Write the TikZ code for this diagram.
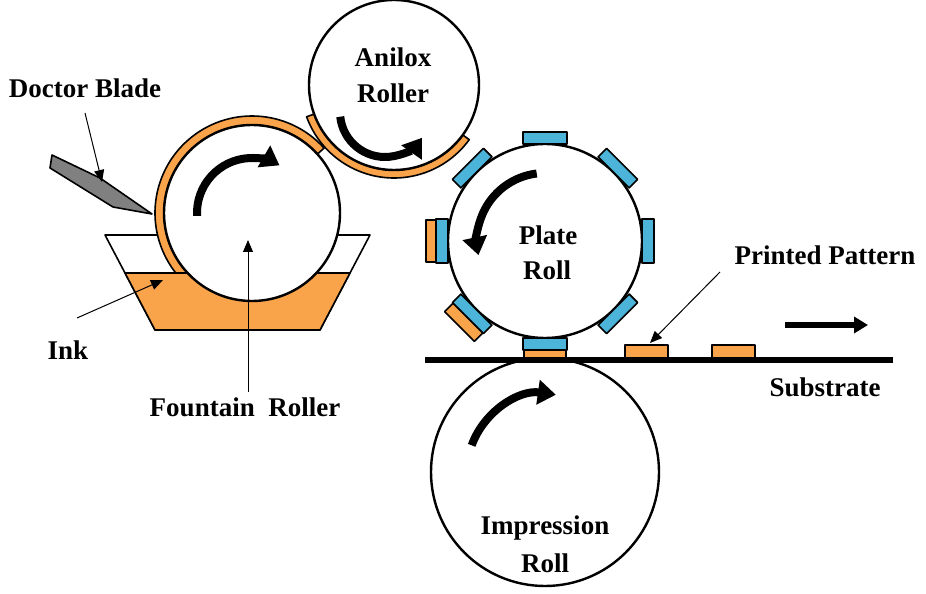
\documentclass[tikz,border=0pt]{standalone}
\usepackage{fontspec}
\setmainfont{Liberation Serif}
\usetikzlibrary{arrows.meta}
\definecolor{ink}{HTML}{F9A34B}
\definecolor{pad}{HTML}{4BB4D8}
\definecolor{blade}{HTML}{808080}
\begin{document}
\begin{tikzpicture}[x=0.5pt,y=0.5pt,line join=round,
  lbl/.style={font=\fontsize{13.5}{15}\selectfont\bfseries,inner sep=0pt},
  roller/.style={draw=black,fill=white,line width=1.2pt},
  rot/.style={line width=4pt,-{Triangle[length=9pt,width=12pt]}},
  thin/.style={line width=0.5pt,-{Triangle[length=6pt,width=5pt]}},
  box/.style={draw=black,line width=0.8pt}]
\useasboundingbox (0,0) rectangle (926,594);
% tray
\filldraw[box,fill=white] (105,359) -- (370,359) -- (320,264) -- (155,264) -- cycle;
% fountain ring
\filldraw[box,fill=ink] (252,381) ++(42:97) arc[start angle=42,end angle=228,radius=97]
  -- ++(48:9) arc[start angle=228,end angle=42,radius=88] -- cycle;
% ink
\filldraw[box,fill=ink] (125,321) -- (350,321) -- (320,264) -- (155,264) -- cycle;
% anilox ring
\filldraw[box,fill=ink] (394,509) ++(200:93) arc[start angle=200,end angle=324,radius=93]
  -- ++(144:8) arc[start angle=324,end angle=200,radius=85] -- cycle;
% rollers
\node[roller,circle,minimum size=88pt] (fr) at (252,381) {};
\node[roller,circle,minimum size=85pt] (an) at (394,509) {};
\node[roller,circle,minimum size=97pt] (pr) at (545,353) {};
\node[roller,circle,minimum size=114pt] (ir) at (545,122) {};
% plate pads
\foreach \a in {0,45,...,315}{
  \filldraw[box,fill=pad,shift={(545,353)},rotate=\a] (97,-22) rectangle (109,22);}
\foreach \a/\r in {180/119,225/121,270/120}{
  \filldraw[box,fill=ink,shift={(545,353)},rotate=\a] (109,-21) rectangle (\r,21);}
% substrate
\coordinate (s1) at (425,234);
\coordinate (s2) at (893,234);
\draw[line width=3pt] (s1) -- (s2);
\filldraw[box,fill=ink] (625,236) rectangle (668,249);
\filldraw[box,fill=ink] (712,236) rectangle (755,249);
% doctor blade
\filldraw[box,fill=blade] (52,439) -- (50,426) -- (113,387) -- (152,380) -- (100,416) -- cycle;
% rotation arrows
\draw[rot] (252,381) ++(183:55) arc[start angle=183,end angle=60,radius=55];
\draw[rot] (385,482) ++(186:45) arc[start angle=186,end angle=325,radius=45];
\draw[rot] (545,353) ++(97:68) arc[start angle=97,end angle=192,radius=68];
\draw[rot] (545,122) ++(160:78) arc[start angle=160,end angle=82,radius=78];
% labels
\node[lbl] (db) at (85,506) {Doctor Blade};
\node[lbl] (an1) at (393,537) {Anilox};
\node[lbl] (an2) at (393,501) {Roller};
\node[lbl] (pl1) at (548,359) {Plate};
\node[lbl] (pl2) at (547,324) {Roll};
\node[lbl] (pp) at (825,339) {Printed Pattern};
\node[lbl] (su) at (825,207) {Substrate};
\node[lbl] (im1) at (545,66) {Impression};
\node[lbl] (im2) at (545,31) {Roll};
\node[lbl] (fo) at (245,187) {Fountain\ \ Roller};
\node[lbl] (ik) at (68,244) {Ink};
% pointer arrows
\coordinate (dbt) at (102,412);
\coordinate (ikt) at (163,314);
\coordinate (fot) at (248,354);
\coordinate (ppt) at (650,251);
\coordinate (m1) at (785,269);
\coordinate (m2) at (868,269);
\draw[thin] (85,481) -- (dbt);
\draw[thin] (77,276) -- (ikt);
\draw[thin] (248,202) -- (fot);
\draw[thin] (720,322) -- (ppt);
\draw[line width=3pt,-{Triangle[length=7pt,width=8pt]}] (m1) -- (m2);
\end{tikzpicture}
\end{document}
